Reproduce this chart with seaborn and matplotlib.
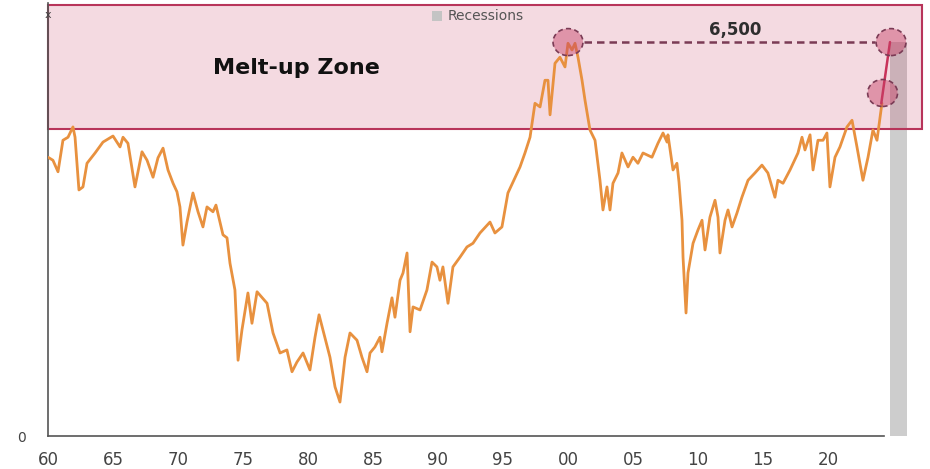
import matplotlib
matplotlib.use("Agg")
import matplotlib.pyplot as plt
from matplotlib.patches import Rectangle, Ellipse, Patch
import seaborn as sns
import pandas as pd

# Valuation series (decimal years, index level expressed in target-equivalent points)
years = [
    1960.00, 1960.38, 1960.77, 1961.15, 1961.54, 1961.92, 1962.08, 1962.38, 1962.69, 1963.00,
    1963.62, 1964.23, 1965.00, 1965.54, 1965.77, 1966.15, 1966.69, 1967.23, 1967.62, 1968.08,
    1968.46, 1968.85, 1969.23, 1969.62, 1969.92, 1970.15, 1970.38, 1970.69, 1971.15, 1971.54,
    1971.92, 1972.23, 1972.69, 1972.92, 1973.46, 1973.77, 1974.00, 1974.38, 1974.62, 1974.92,
    1975.38, 1975.69, 1976.08, 1976.85, 1977.31, 1977.85, 1978.38, 1978.77, 1979.15, 1979.62,
    1980.15, 1980.54, 1980.85, 1981.15, 1981.69, 1982.08, 1982.46, 1982.85, 1983.23, 1983.77,
    1984.15, 1984.54, 1984.77, 1985.15, 1985.54, 1985.69, 1986.08, 1986.46, 1986.69, 1987.08,
    1987.31, 1987.62, 1987.85, 1988.08, 1988.62, 1989.15, 1989.54, 1989.92, 1990.15, 1990.38,
    1990.77, 1991.15, 1991.69, 1992.23, 1992.69, 1993.23, 1994.00, 1994.38, 1994.92, 1995.38,
    1996.31, 1996.69, 1997.08, 1997.46, 1997.85, 1998.23, 1998.46, 1998.62, 1999.00, 1999.38,
    1999.77, 2000.00, 2000.31, 2000.54, 2000.77, 2001.08, 2001.31, 2001.69, 2002.08, 2002.46,
    2002.69, 2003.00, 2003.23, 2003.46, 2003.85, 2004.15, 2004.62, 2005.00, 2005.38, 2005.77,
    2006.46, 2006.92, 2007.31, 2007.62, 2007.69, 2008.08, 2008.38, 2008.54, 2008.77, 2008.85,
    2009.08, 2009.23, 2009.62, 2010.00, 2010.31, 2010.54, 2010.92, 2011.31, 2011.54, 2011.69,
    2012.08, 2012.31, 2012.62, 2013.00, 2013.38, 2013.85, 2014.38, 2014.92, 2015.38, 2015.92,
    2016.15, 2016.54, 2017.08, 2017.69, 2018.00, 2018.23, 2018.62, 2018.85, 2019.23, 2019.62,
    2019.92, 2020.15, 2020.54, 2020.92, 2021.46, 2021.85, 2022.23, 2022.69, 2023.08, 2023.46,
    2023.77, 2024.15,
]
values = [
    4600, 4550, 4360, 4880, 4930, 5100, 4930, 4060, 4110, 4500,
    4670, 4850, 4950, 4770, 4930, 4830, 4110, 4690, 4550, 4270,
    4590, 4750, 4390, 4170, 4030, 3780, 3150, 3530, 4010, 3700,
    3450, 3780, 3700, 3810, 3320, 3270, 2850, 2410, 1250, 1750,
    2360, 1860, 2380, 2190, 1700, 1370, 1420, 1060, 1220, 1370,
    1090, 1630, 2000, 1750, 1300, 810, 560, 1300, 1700, 1580,
    1300, 1060, 1370, 1470, 1630, 1390, 1860, 2280, 1960, 2570,
    2690, 3020, 1720, 2130, 2080, 2410, 2870, 2790, 2570, 2790,
    2190, 2790, 2950, 3120, 3180, 3350, 3530, 3350, 3450, 4010,
    4440, 4670, 4930, 5490, 5430, 5870, 5870, 5300, 6150, 6250,
    6090, 6480, 6370, 6480, 6250, 5870, 5540, 5050, 4880, 4220,
    3730, 4110, 3730, 4170, 4340, 4670, 4440, 4600, 4500, 4670,
    4600, 4830, 5000, 4850, 4970, 4390, 4500, 4190, 3560, 2950,
    2030, 2690, 3180, 3400, 3560, 3070, 3610, 3890, 3610, 3020,
    3560, 3730, 3450, 3680, 3940, 4220, 4340, 4470, 4340, 3940,
    4220, 4170, 4390, 4670, 4930, 4720, 4970, 4390, 4880, 4880,
    5000, 4110, 4600, 4770, 5100, 5210, 4770, 4220, 4600, 5050,
    4880, 5490,
]

# Melt-up zone band and the projected target
meltup_floor = 5070
target_level = 6500
target_label = "6,500"
peak_year = 2000.0
target_year = 2024.85
latest_year = 2024.2
latest_level = 5660

# Recession shading
recession_start = 2024.77
recession_end = 2026.08

tick_years = [1960, 1965, 1970, 1975, 1980, 1985, 1990, 1995, 2000, 2005, 2010, 2015, 2020]
tick_labels = ["60", "65", "70", "75", "80", "85", "90", "95", "00", "05", "10", "15", "20"]

sns.set_theme(style="white")
plt.rcParams["font.family"] = ["DejaVu Sans"]

W, H = 930, 469
fig = plt.figure(figsize=(W / 100, H / 100), dpi=100)
ax = fig.add_axes([48 / W, 33 / H, 878 / W, 433 / H])

y_top = 7145
x_right = 2027.54
ax.set_xlim(1960, x_right)
ax.set_ylim(0, y_top)

orange = "#E8913F"
crimson = "#B8345A"
mauve = "#7A3B55"

df = pd.DataFrame({"year": years, "value": values})

# recession bar (sits beneath the translucent zone)
ax.add_patch(Rectangle((recession_start, 0), recession_end - recession_start, target_level,
                       facecolor="#CDCDCD", edgecolor="none", zorder=1))

# melt-up zone
ax.add_patch(Rectangle((1960, meltup_floor), 2027.23 - 1960, 7115 - meltup_floor,
                       facecolor=(0.78, 0.20, 0.35, 0.18), edgecolor=crimson,
                       linewidth=1.5, zorder=2, clip_on=False))

sns.lineplot(data=df, x="year", y="value", color=orange, linewidth=2.0, ax=ax, zorder=3)

# move from the latest reading up to the target
ax.plot([2024.1, target_year - 0.08], [5490, target_level], color="#C8325A",
        linewidth=1.8, zorder=4, solid_capstyle="round")

# dashed level connecting the 2000 peak with the target
ax.plot([peak_year + 1.2, target_year - 1.2], [target_level, target_level],
        color=mauve, linewidth=1.8, linestyle=(0, (3, 2)), zorder=4)

circle_face = (0.78, 0.25, 0.40, 0.45)
for cx, cy in [(peak_year, target_level), (target_year, target_level), (latest_year, latest_level)]:
    ax.add_patch(Ellipse((cx, cy), 2.3, 445, facecolor=circle_face, edgecolor=mauve,
                         linewidth=1.2, linestyle=(0, (3, 2)), zorder=5, clip_on=False))

ax.text(2012.9, 6699, target_label, ha="center", va="center", fontsize=12,
        fontweight="bold", color="#2E2E2E", zorder=6)
ax.text(1972.7, 6072, "Melt-up Zone", ha="left", va="center", fontsize=16,
        fontweight="bold", color="#111111", zorder=6)

# axis marker at the top of the scale
ax.text(1960, y_top - 190, "x", ha="center", va="center", fontsize=8, color="#444444",
        zorder=6, clip_on=False)

leg = ax.legend(handles=[Patch(facecolor="#C4C4C4", edgecolor="none", label="Recessions")],
                loc="upper left", bbox_to_anchor=(0.437, 0.985), frameon=False,
                handlelength=0.75, handleheight=0.75, handletextpad=0.4,
                borderpad=0, borderaxespad=0, fontsize=10)
for t in leg.get_texts():
    t.set_color("#555555")

ax.set_xticks(tick_years)
ax.set_xticklabels(tick_labels)
ax.set_yticks([0])
ax.set_yticklabels(["0"])
ax.tick_params(axis="x", length=0, pad=11, labelsize=12, labelcolor="#444444")
ax.tick_params(axis="y", length=0, pad=16, labelsize=10, labelcolor="#444444")
ax.set_xlabel("")
ax.set_ylabel("")

for side in ["top", "right"]:
    ax.spines[side].set_visible(False)
for side in ["left", "bottom"]:
    ax.spines[side].set_color("#555555")
    ax.spines[side].set_linewidth(1.2)
ax.spines["bottom"].set_bounds(1960, 2024.3)
ax.grid(False)
ax.set_facecolor("white")
fig.patch.set_facecolor("white")

fig.savefig("out.png", dpi=100)
